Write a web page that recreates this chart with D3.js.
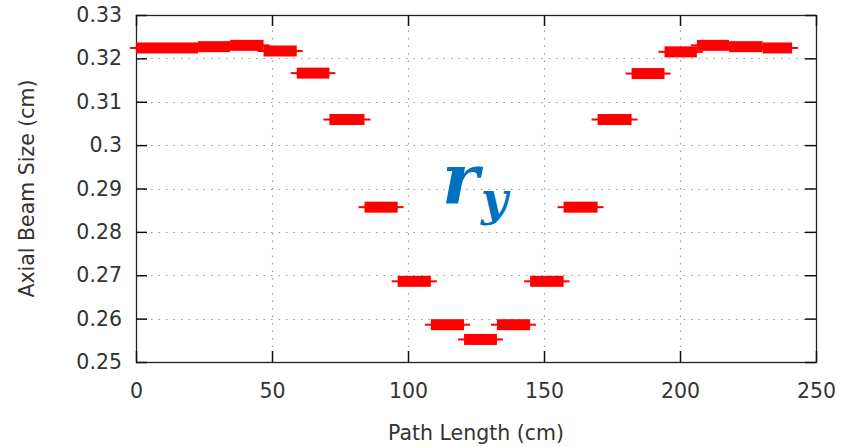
<!DOCTYPE html>
<html>
<head>
<meta charset="utf-8">
<script src="https://cdn.jsdelivr.net/npm/d3@7"></script>
<style>
  html, body { margin: 0; padding: 0; background: #fff; }
  svg { display: block; }
</style>
</head>
<body>
<svg id="chart" width="854" height="447"></svg>
<script>
// Axial beam size along the path, one flat step per element
const segStart = [0, 11.4, 22.8, 34.6, 46.9, 59.1, 71.1, 84.0, 96.2, 108.4, 120.6, 132.7, 144.9, 157.2, 169.7, 182.2, 194.3, 206.2, 218.0, 230.4];
const segEnd   = [11.4, 22.8, 34.6, 46.9, 59.1, 71.1, 84.0, 96.2, 108.4, 120.6, 132.7, 144.9, 157.2, 169.7, 182.2, 194.3, 206.2, 218.0, 230.4, 241.2];
const beamSize = [0.3224, 0.3224, 0.3227, 0.3230, 0.3217, 0.3166, 0.3059, 0.2857, 0.2686, 0.2586, 0.2552, 0.2586, 0.2686, 0.2857, 0.3059, 0.3165, 0.3215, 0.3230, 0.3227, 0.3224];

const xTicks = [0, 50, 100, 150, 200, 250];
const xTickLabels = ["0", "50", "100", "150", "200", "250"];
const yTicks = [0.25, 0.26, 0.27, 0.28, 0.29, 0.30, 0.31, 0.32, 0.33];
const yTickLabels = ["0.25", "0.26", "0.27", "0.28", "0.29", "0.3", "0.31", "0.32", "0.33"];

const xTitle = "Path Length (cm)";
const yTitle = "Axial Beam Size (cm)";

const segments = segStart.map((s, i) => ({ start: s, end: segEnd[i], value: beamSize[i] }));

const svg = d3.select("#chart");
const plot = { left: 136, right: 816, top: 15, bottom: 362 };
const font = "'DejaVu Sans', sans-serif";
const fontSize = 20.5;
const textColor = "#333";

const x = d3.scaleLinear().domain([0, 250]).range([plot.left, plot.right]);
const y = d3.scaleLinear().domain([0.25, 0.33]).range([plot.bottom, plot.top]);

// dotted grid
const grid = svg.append("g").attr("stroke", "#999").attr("stroke-width", 1.2).attr("stroke-dasharray", "1.5,6");
grid.selectAll("line.gx").data(xTicks.filter(d => d > 0 && d < 250)).join("line")
  .attr("x1", d => Math.round(x(d)) + 0.5).attr("x2", d => Math.round(x(d)) + 0.5)
  .attr("y1", plot.bottom).attr("y2", plot.top);
grid.selectAll("line.gy").data(yTicks.filter(d => d > 0.25 && d < 0.33)).join("line")
  .attr("y1", d => Math.round(y(d)) + 0.5).attr("y2", d => Math.round(y(d)) + 0.5)
  .attr("x1", plot.left).attr("x2", plot.right);

// frame
svg.append("rect")
  .attr("x", plot.left + 0.5).attr("y", plot.top + 0.5)
  .attr("width", plot.right - plot.left).attr("height", plot.bottom - plot.top)
  .attr("fill", "none").attr("stroke", "#222").attr("stroke-width", 1.3);

// axes with inward ticks
function styleAxis(g) {
  g.select(".domain").remove();
  g.selectAll(".tick line").attr("stroke", "#111").attr("stroke-width", 1.5);
  g.selectAll("text").attr("font-family", font).attr("font-size", fontSize).attr("fill", textColor);
}
svg.append("g").attr("transform", `translate(${plot.left},0)`)
  .call(d3.axisLeft(y).tickValues(yTicks).tickFormat((d, i) => yTickLabels[i]).tickSize(-11).tickPadding(14))
  .call(styleAxis);
svg.append("g").attr("transform", `translate(${plot.right},0)`)
  .call(d3.axisRight(y).tickValues(yTicks).tickFormat("").tickSize(-11))
  .call(styleAxis);
svg.append("g").attr("transform", `translate(0,${plot.bottom})`)
  .call(d3.axisBottom(x).tickValues(xTicks).tickFormat((d, i) => xTickLabels[i]).tickSize(-11).tickPadding(21))
  .call(styleAxis);
svg.append("g").attr("transform", `translate(0,${plot.top})`)
  .call(d3.axisTop(x).tickValues(xTicks).tickFormat("").tickSize(-11))
  .call(styleAxis);

// beam size steps: thin whisker plus thick bar
const barH = 11, whiskerH = 2, whiskerExt = 6;
const steps = svg.append("g");
steps.selectAll("rect.whisker").data(segments).join("rect")
  .attr("class", "whisker")
  .attr("x", d => x(d.start) - whiskerExt)
  .attr("width", d => x(d.end) - x(d.start) + 2 * whiskerExt)
  .attr("y", d => y(d.value) - whiskerH / 2)
  .attr("height", whiskerH)
  .attr("fill", "#ff0000");
steps.selectAll("rect.bar").data(segments).join("rect")
  .attr("class", "bar")
  .attr("x", d => x(d.start))
  .attr("width", d => x(d.end) - x(d.start))
  .attr("y", d => y(d.value) - barH / 2)
  .attr("height", barH)
  .attr("fill", "#ff0000");

// axis titles
svg.append("text")
  .attr("x", (plot.left + plot.right) / 2).attr("y", 440)
  .attr("text-anchor", "middle")
  .attr("font-family", font).attr("font-size", fontSize).attr("fill", textColor)
  .text(xTitle);
svg.append("text")
  .attr("transform", `translate(34,${(plot.top + plot.bottom) / 2}) rotate(-90)`)
  .attr("text-anchor", "middle")
  .attr("font-family", font).attr("font-size", fontSize).attr("fill", textColor)
  .text(yTitle);

// r_y annotation
const ann = svg.append("text")
  .attr("x", 442).attr("y", 203)
  .attr("font-family", "'DejaVu Serif', serif")
  .attr("font-weight", "bold").attr("font-style", "italic")
  .attr("fill", "#0070c0");
ann.append("tspan").attr("font-size", 70).text("r");
ann.append("tspan").attr("font-size", 46).attr("dx", 2).attr("dy", 12).text("y");
</script>
</body>
</html>
